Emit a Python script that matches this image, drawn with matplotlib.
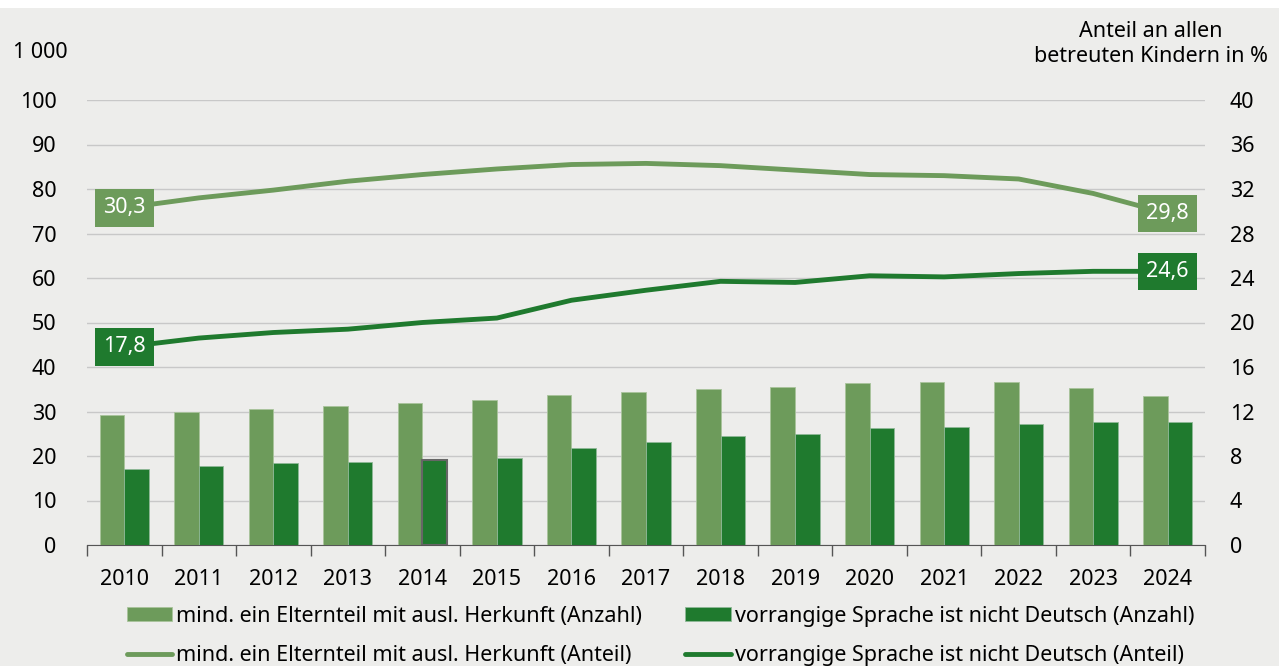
import matplotlib.pyplot as plt
import numpy as np

years = ['2010', '2011', '2012', '2013', '2014', '2015', '2016', '2017',
         '2018', '2019', '2020', '2021', '2022', '2023', '2024']
herkunft_anzahl = [29.2, 29.8, 30.5, 31.3, 31.8, 32.5, 33.7, 34.4, 35.0, 35.5, 36.4, 36.6, 36.6, 35.3, 33.5]
sprache_anzahl = [17.1, 17.8, 18.4, 18.6, 19.1, 19.6, 21.8, 23.1, 24.5, 24.9, 26.3, 26.5, 27.2, 27.6, 27.6]
herkunft_anteil = [30.3, 31.2, 31.9, 32.7, 33.3, 33.8, 34.2, 34.3, 34.1, 33.7, 33.3, 33.2, 32.9, 31.6, 29.8]
sprache_anteil = [17.8, 18.6, 19.1, 19.4, 20.0, 20.4, 22.0, 22.9, 23.7, 23.6, 24.2, 24.1, 24.4, 24.6, 24.6]

light = '#6d9b5b'
dark = '#1f7a2e'
bg = '#ededeb'
fs = 15.5

plt.rcParams['font.family'] = ['Noto Sans', 'DejaVu Sans']

fig = plt.figure(figsize=(12.79, 6.66), dpi=100)
fig.patch.set_facecolor('white')
# grey panel below a thin white strip
fig.patches.append(plt.Rectangle((0, 0), 1, 1 - 8 / 666, transform=fig.transFigure,
                                 facecolor=bg, edgecolor='none', zorder=-10))

ax = fig.add_axes([87 / 1279, 1 - 545 / 666, (1205 - 87) / 1279, 445 / 666])
ax.set_facecolor(bg)
ax2 = ax.twinx()

x = np.arange(len(years))
w = 0.33
b1 = ax.bar(x - w / 2, herkunft_anzahl, w, color=light, edgecolor='#a9c39c', linewidth=0.6, zorder=3)
b2 = ax.bar(x + w / 2, sprache_anzahl, w, color=dark, edgecolor='#8fb897', linewidth=0.6, zorder=3)
b2[4].set_edgecolor('#666666')
b2[4].set_linewidth(1.5)

ax.set_xlim(-0.5, len(years) - 0.5)
ax.set_ylim(0, 100)
ax.set_yticks(range(0, 101, 10))
ax.grid(axis='y', color='#c8c8c8', linewidth=1.0, zorder=0)
ax.set_axisbelow(True)
ax.set_xticks(x)
ax.set_xticklabels(years)
ax.set_xticks(np.arange(-0.5, len(years), 1), minor=True)
ax.tick_params(axis='x', which='major', length=0, pad=17, labelsize=fs)
ax.tick_params(axis='x', which='minor', length=8, color='#555555', width=1)
ax.tick_params(axis='y', length=0, pad=22, labelsize=fs)
for s in ['top', 'right', 'left']:
    ax.spines[s].set_visible(False)
ax.spines['bottom'].set_color('#555555')

l1, = ax2.plot(x, herkunft_anteil, color=light, linewidth=3.5, zorder=4, solid_capstyle='round')
l2, = ax2.plot(x, sprache_anteil, color=dark, linewidth=3.5, zorder=4, solid_capstyle='round')
ax2.set_ylim(0, 40)
ax2.set_yticks(range(0, 41, 4))
ax2.tick_params(axis='y', length=0, pad=18, labelsize=fs)
for s in ['top', 'right', 'left', 'bottom']:
    ax2.spines[s].set_visible(False)

def fmt(v):
    return f'{v:.1f}'.replace('.', ',')

for series, col in [(herkunft_anteil, light), (sprache_anteil, dark)]:
    for i in [0, len(years) - 1]:
        ax2.text(x[i], series[i], fmt(series[i]), color='white', fontsize=fs,
                 ha='center', va='center', zorder=6,
                 bbox=dict(boxstyle='square,pad=0.38', facecolor=col, edgecolor='none'))

fig.text(68 / 1279, 1 - 53 / 666, '1 000', ha='right', va='center', fontsize=fs)
fig.text(1268 / 1279, 1 - 44 / 666, 'Anteil an allen\nbetreuten Kindern in %', ha='right',
         va='center', fontsize=fs, multialignment='center', linespacing=1.25)

leg = fig.legend([b1, l1, b2, l2],
                 ['mind. ein Elternteil mit ausl. Herkunft (Anzahl)',
                  'mind. ein Elternteil mit ausl. Herkunft (Anteil)',
                  'vorrangige Sprache ist nicht Deutsch (Anzahl)',
                  'vorrangige Sprache ist nicht Deutsch (Anteil)'],
                 ncol=2, loc='center left', bbox_to_anchor=(116 / 1279, 1 - 636 / 666),
                 frameon=False, fontsize=fs, handlelength=2.1, handleheight=0.6,
                 handletextpad=0.2, columnspacing=2.0, labelspacing=0.85, borderpad=0)

fig.savefig('out.png', dpi=100, facecolor=fig.get_facecolor())
